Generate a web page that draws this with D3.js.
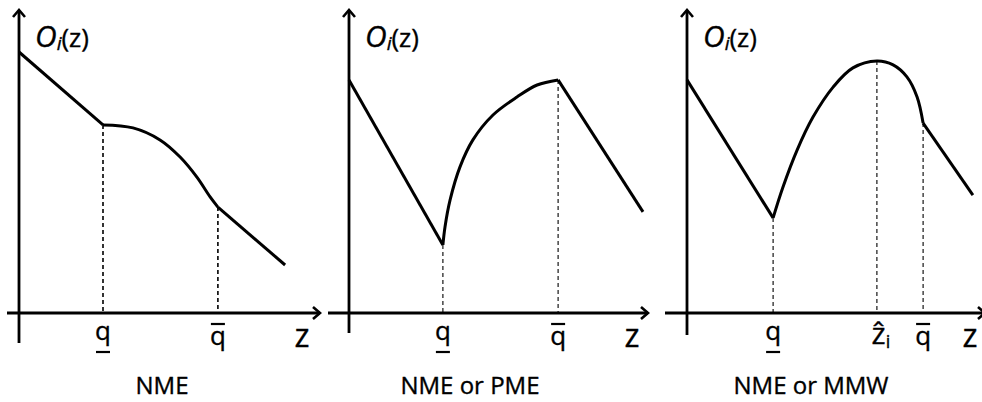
<!DOCTYPE html>
<html>
<head>
<meta charset="utf-8">
<script src="https://cdn.jsdelivr.net/npm/d3@7"></script>
<style>
  html, body { margin: 0; padding: 0; background: #fff; }
  svg { display: block; }
  text { font-family: "Open Sans", "DejaVu Sans", sans-serif; fill: #000; stroke: #000; stroke-width: 0.35; }
</style>
</head>
<body>
<svg id="chart" width="982" height="402"></svg>
<script>
// ---------- data (abstract units: x 0..100, y 0..100) ----------
const titles = ["NME", "NME or PME", "NME or MMW"];
const yLabelMain = "O";
const yLabelSub = "i";
const yLabelArg = "(z)";
const xLabel = "z";

// Panel 1 (NME)
const p1Left  = [[0, 87], [28, 62.7]];
const p1Curve = [[28, 62.7], [38, 61.7], [47, 57.7], [53.7, 52], [59.3, 45.3], [63.7, 38.7], [66.3, 35.3]];
const p1Right = [[66.3, 35.3], [88.7, 16]];
const p1Ticks = [
  { x: 28,   y: 62.7, label: "q", bar: "under" },
  { x: 66.3, y: 35.3, label: "q", bar: "over" }
];

// Panel 2 (NME or PME)
const p2Left  = [[0, 77.7], [31.3, 22.7]];
const p2Curve = [[31.3, 22.7], [32, 28.7], [33.7, 37.7], [37, 48.7], [41.3, 57.7], [48, 66], [56, 72], [62.7, 76], [69.7, 77.7]];
const p2Right = [[69.7, 77.7], [98, 33.7]];
const p2Ticks = [
  { x: 31.3, y: 22.7, label: "q", bar: "under" },
  { x: 69.7, y: 77.7, label: "q", bar: "over" }
];

// Panel 3 (NME or MMW)
const p3Left  = [[0, 77.7], [28.7, 31.7]];
const p3Curve = [[28.7, 31.7], [32, 42], [36.7, 54.3], [42, 65.3], [48.7, 75.3], [55.3, 81.7], [63.3, 84], [68.7, 82.7], [73.3, 78.7], [76.7, 72], [78.7, 63.3]];
const p3Right = [[78.7, 63.3], [95.3, 39.3]];
const p3Ticks = [
  { x: 28.7, y: 31.7, label: "q", bar: "under" },
  { x: 63.3, y: 84,   label: "ẑ", sub: "i", bar: "none" },
  { x: 78.7, y: 63.3, label: "q", bar: "over" }
];

const panelData = [
  { left: p1Left, curve: p1Curve, right: p1Right, ticks: p1Ticks },
  { left: p2Left, curve: p2Curve, right: p2Right, ticks: p2Ticks },
  { left: p3Left, curve: p3Curve, right: p3Right, ticks: p3Ticks }
];

// ---------- layout ----------
const layout = [
  { ox: 19,  xAxisFrom: -12, xAxisTo: 301, yAxisBelow: 30, titleX: 162 },
  { ox: 349, xAxisFrom: -21, xAxisTo: 299, yAxisBelow: 20, titleX: 470 },
  { ox: 687, xAxisFrom: -22, xAxisTo: 298, yAxisBelow: 22, titleX: 811 }
];
const oy = 313;
const svg = d3.select("#chart");

function arrow(g, x, y, dir) {
  const s = 6, l = 7;
  let d;
  if (dir === "right") d = `M${x - l},${y - s}L${x},${y}L${x - l},${y + s}`;
  else d = `M${x - s},${y + l}L${x},${y}L${x + s},${y + l}`;
  g.append("path").attr("d", d).attr("fill", "none").attr("stroke", "#000")
    .attr("stroke-width", 2.6).attr("stroke-linejoin", "miter");
}

panelData.forEach((pd, i) => {
  const L = layout[i];
  const x = d3.scaleLinear().domain([0, 100]).range([L.ox, L.ox + 300]);
  const y = d3.scaleLinear().domain([0, 100]).range([oy, oy - 300]);
  const g = svg.append("g");

  // axes
  g.append("line")
    .attr("x1", L.ox + L.xAxisFrom).attr("x2", L.ox + L.xAxisTo)
    .attr("y1", oy).attr("y2", oy)
    .attr("stroke", "#000").attr("stroke-width", 2.8);
  arrow(g, L.ox + L.xAxisTo, oy, "right");
  g.append("line")
    .attr("x1", L.ox).attr("x2", L.ox)
    .attr("y1", oy + L.yAxisBelow).attr("y2", 11)
    .attr("stroke", "#000").attr("stroke-width", 2.8);
  arrow(g, L.ox, 10, "up");

  // dashed guides
  pd.ticks.forEach(t => {
    g.append("line")
      .attr("x1", x(t.x)).attr("x2", x(t.x))
      .attr("y1", y(t.y)).attr("y2", oy)
      .attr("stroke", "#000").attr("stroke-width", i === 0 ? 1.6 : 1.1)
      .attr("stroke-dasharray", "4,3");
  });

  // curve pieces
  const lin = d3.line().x(d => x(d[0])).y(d => y(d[1]));
  const smooth = d3.line().x(d => x(d[0])).y(d => y(d[1])).curve(d3.curveCatmullRom.alpha(0.5));
  const pathAttrs = sel => sel.attr("fill", "none").attr("stroke", "#000")
    .attr("stroke-width", 3).attr("stroke-linejoin", "round").attr("stroke-linecap", "butt");
  g.append("path").attr("d", lin(pd.left)).call(pathAttrs);
  g.append("path").attr("d", smooth(pd.curve)).call(pathAttrs);
  g.append("path").attr("d", lin(pd.right)).call(pathAttrs);

  // tick labels
  pd.ticks.forEach(t => {
    const tx = x(t.x);
    if (t.bar === "under") {
      g.append("text").attr("x", tx).attr("y", 340).attr("text-anchor", "middle")
        .attr("font-size", 26).text(t.label);
      g.append("line").attr("x1", tx - 7).attr("x2", tx + 7).attr("y1", 352).attr("y2", 352)
        .attr("stroke", "#000").attr("stroke-width", 2.2);
    } else if (t.bar === "over") {
      g.append("text").attr("x", tx).attr("y", 345).attr("text-anchor", "middle")
        .attr("font-size", 26).text(t.label);
      g.append("line").attr("x1", tx - 7).attr("x2", tx + 7).attr("y1", 324).attr("y2", 324)
        .attr("stroke", "#000").attr("stroke-width", 2.2);
    } else {
      const tt = g.append("text").attr("x", tx + 4).attr("y", 344).attr("text-anchor", "middle")
        .attr("font-size", 30).text(t.label);
      tt.append("tspan").attr("font-size", 18).attr("dy", 4).text(t.sub);
    }
  });

  // x label
  g.append("text").attr("x", L.ox + 283).attr("y", 347).attr("text-anchor", "middle")
    .attr("font-size", 32).text(xLabel);

  // y label
  const yl = g.append("text").attr("x", L.ox + 16).attr("y", 47).attr("font-size", 30);
  yl.append("tspan").attr("font-style", "italic").text(yLabelMain);
  yl.append("tspan").attr("font-style", "italic").attr("font-size", 19).attr("dy", 3).text(yLabelSub);
  yl.append("tspan").attr("font-size", 26).attr("dy", -3).text(yLabelArg);

  // title
  g.append("text").attr("x", L.titleX).attr("y", 394).attr("text-anchor", "middle")
    .attr("font-size", 24).text(titles[i]);
});
</script>
</body>
</html>
